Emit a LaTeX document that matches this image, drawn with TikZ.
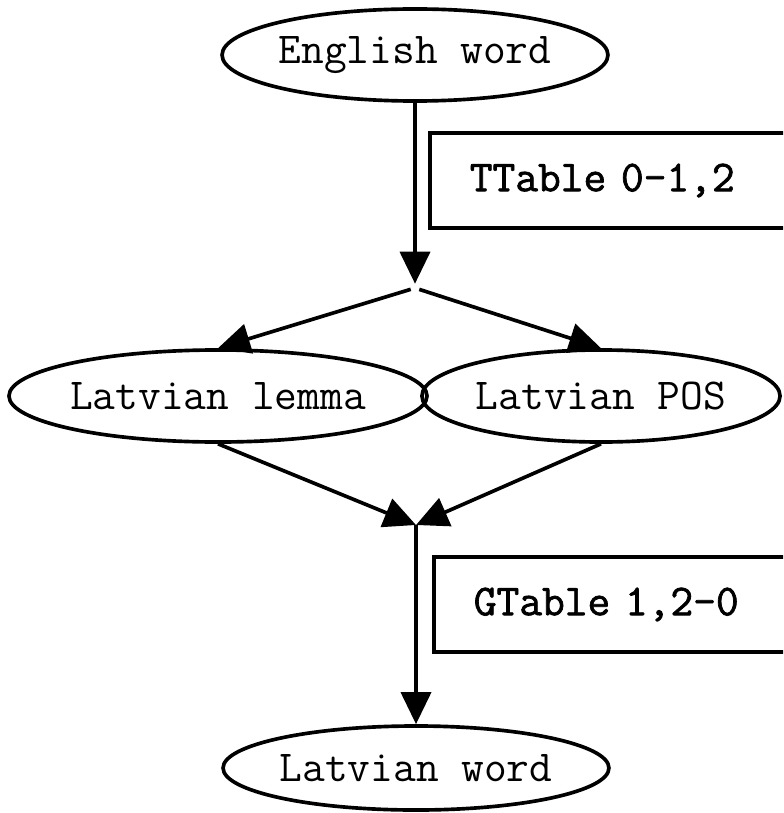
\documentclass[tikz,border=0pt]{standalone}
\usepackage{fontspec}
\newfontfamily\tablefont[FakeBold=1.6]{Latin Modern Mono}
\usetikzlibrary{arrows.meta,shapes.geometric}

\begin{document}
\begin{tikzpicture}[
  x=0.025cm,
  y=-0.025cm,
  font=\ttfamily\fontsize{31.4}{36}\selectfont,
  line/.style={draw=black,line width=2.6pt},
  arrow/.style={line,-{Triangle[length=8mm,width=7.5mm]}},
  wordnode/.style={line,ellipse,inner sep=0pt,minimum height=2.3cm},
  tablebox/.style={line,anchor=west,minimum height=2.375cm,inner xsep=1cm,
    text width=7.5cm,align=left,font=\tablefont\fontsize{31.4}{36}\selectfont}
]
\useasboundingbox (0,0) rectangle (783,813);
\clip (0,0) rectangle (783,813);

% Words
\node[wordnode,minimum width=9.6cm] (english) at (415,55) {English word};
\node[wordnode,minimum width=10.2cm] (lemma) at (218,396) {Latvian lemma};
\node[wordnode,minimum width=8.95cm] (pos) at (601,396) {Latvian POS};
\node[wordnode,minimum width=9.55cm,minimum height=2.1cm] (latvian) at (416,768) {Latvian word};

% Tables
\node[tablebox] (ttable) at (428,180.5) {TTable 0-1,2};
\node[tablebox] (gtable) at (432,604.5) {GTable 1,2-0};

% Split and merge points
\node[inner sep=0pt,minimum size=0.2cm] (split) at (415,288) {};
\coordinate (merge) at (416,525);

% Connectors
\draw[arrow] (english.south) -- (split.north);
\draw[arrow] (split) -- (lemma.north);
\draw[arrow] (split) -- (pos.north);
\draw[arrow] (lemma.south) -- (merge);
\draw[arrow] (pos.south) -- (merge);
\draw[arrow] (merge) -- (latvian.north);

\end{tikzpicture}
\end{document}
